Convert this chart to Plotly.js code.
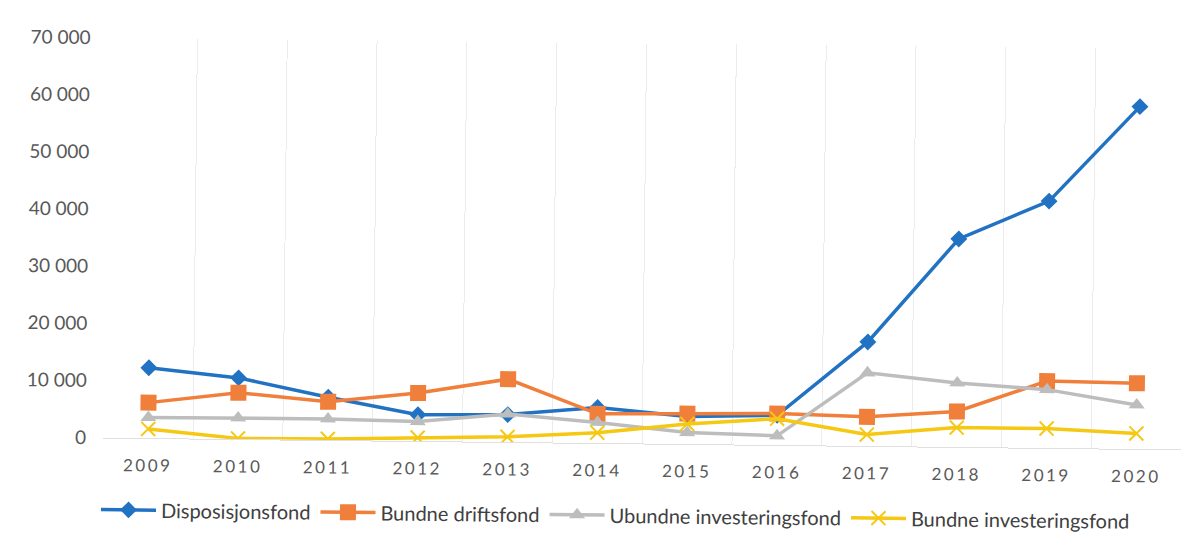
<!DOCTYPE html>
<html>
<head>
<meta charset="utf-8">
<script src="https://cdn.plot.ly/plotly-3.0.1.min.js"></script>
<style>
  html, body { margin: 0; padding: 0; background: #ffffff; overflow: hidden; }
  #chart { width: 1197px; height: 549px; transform: rotate(0.63deg); transform-origin: 50% 50%; }
  .xtick text { letter-spacing: 2.5px; }
</style>
</head>
<body>
<div id="chart"></div>
<script>
const years = ["2009","2010","2011","2012","2013","2014","2015","2016","2017","2018","2019","2020"];
const disposisjonsfond = [12300, 10700, 7500, 4600, 4800, 6200, 4800, 5200, 18200, 36400, 43200, 59900];
const bundneDriftsfond = [6200, 8100, 6700, 8400, 11000, 5100, 5300, 5500, 5100, 6200, 11700, 11500];
const ubundneInvesteringsfond = [3600, 3700, 3700, 3400, 4900, 3600, 2000, 1600, 12800, 11200, 10200, 7700];
const bundneInvesteringsfond = [1600, 100, 200, 600, 900, 1800, 3500, 4600, 2000, 3400, 3400, 2700];
const yTickVals = [0, 10000, 20000, 30000, 40000, 50000, 60000, 70000];
const yTickText = ["0", "10 000", "20 000", "30 000", "40 000", "50 000", "60 000", "70 000"];

const seriesNames = ["Disposisjonsfond", "Bundne driftsfond", "Ubundne investeringsfond", "Bundne investeringsfond"];
const seriesData = [disposisjonsfond, bundneDriftsfond, ubundneInvesteringsfond, bundneInvesteringsfond];
const colors = ["#2272c3", "#f07f3c", "#bdbdbd", "#f5c814"];
const symbols = ["diamond", "square", "triangle-up", "x-thin-open"];
const sizes = [13, 16, 14, 14];

const traces = seriesData.map((d, i) => ({
  type: "scatter",
  mode: "lines+markers",
  name: seriesNames[i],
  x: years,
  y: d,
  line: { color: colors[i], width: 3.5 },
  marker: { symbol: symbols[i], size: sizes[i], color: colors[i], line: { color: colors[i], width: i === 3 ? 2 : 0 } }
}));

const layout = {
  width: 1197,
  height: 549,
  margin: { l: 105, r: 14, t: 43, b: 106 },
  paper_bgcolor: "#ffffff",
  plot_bgcolor: "#ffffff",
  font: { family: "Lato, 'Open Sans', sans-serif", color: "#595959", size: 17 },
  showlegend: true,
  legend: {
    orientation: "h",
    x: 0.476, xanchor: "center",
    y: -0.18, yanchor: "middle",
    font: { size: 20, color: "#404040", family: "Lato, sans-serif" },
    itemwidth: 55,
    tracegroupgap: 0
  },
  xaxis: {
    type: "category",
    range: [-0.5, 11.5],
    tickson: "boundaries",
    ticklen: 0,
    showgrid: true,
    gridcolor: "#ececec",
    gridwidth: 1,
    showline: true,
    linecolor: "#e0e0e0",
    linewidth: 1,
    zeroline: false,
    tickfont: { size: 17, color: "#595959" },
    ticklabelstandoff: 12
  },
  yaxis: {
    range: [0, 70000],
    tickvals: yTickVals,
    ticktext: yTickText,
    showgrid: false,
    zeroline: false,
    showline: false,
    ticklen: 0,
    ticklabelstandoff: 16,
    tickfont: { size: 19, color: "#595959" }
  }
};

Plotly.newPlot("chart", traces, layout, { displayModeBar: false, staticPlot: true });
</script>
</body>
</html>
